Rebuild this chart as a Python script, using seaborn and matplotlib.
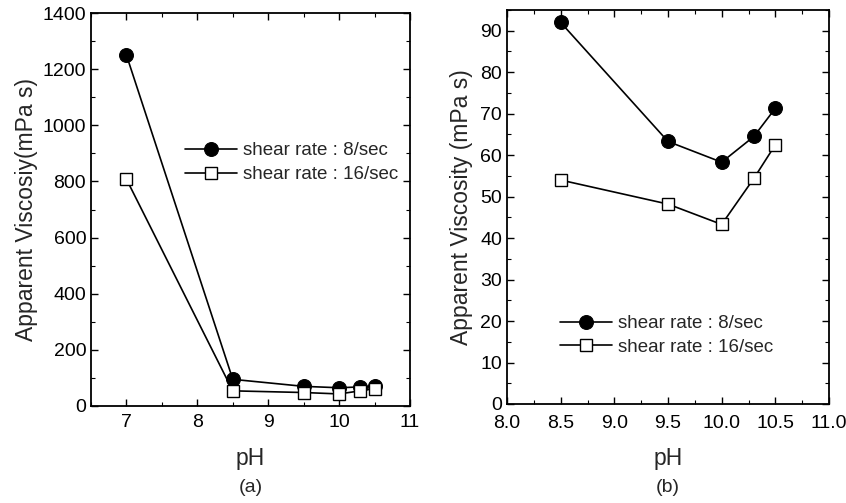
import matplotlib
matplotlib.use("Agg")
import matplotlib.pyplot as plt
import seaborn as sns
import pandas as pd
from matplotlib.ticker import MultipleLocator, FixedLocator, FixedFormatter

sns.set_style("ticks")
plt.rcParams['font.family'] = ['Liberation Sans', 'DejaVu Sans']

# Data
ph_a = [7.0, 8.5, 9.5, 10.0, 10.3, 10.5]
visc_8_a = [1250, 95, 70, 65, 68, 71]
visc_16_a = [808, 54, 48, 43, 54, 62]

ph_b = [8.5, 9.5, 10.0, 10.3, 10.5]
visc_8_b = [92, 63.3, 58.3, 64.5, 71.3]
visc_16_b = [54, 48.2, 43.3, 54.4, 62.5]

label_8 = "shear rate : 8/sec"
label_16 = "shear rate : 16/sec"
xticks_b = [8.0, 8.5, 9.0, 9.5, 10.0, 10.5, 11.0]
xticklabels_b = ["8.0", "8.5", "9.0", "9.5", "10.0", "10.5", "11.0"]

fig = plt.figure(figsize=(8.46, 5.03), dpi=100)
W, H = 846, 503
axa = fig.add_axes([91 / W, (H - 406) / H, 319 / W, 393 / H])
axb = fig.add_axes([507 / W, (H - 404) / H, 322 / W, 394 / H])

def draw(ax, x, y8, y16):
    df8 = pd.DataFrame({"pH": x, "v": y8})
    df16 = pd.DataFrame({"pH": x, "v": y16})
    sns.lineplot(data=df8, x="pH", y="v", ax=ax, color="black", marker="o",
                 markersize=10, markerfacecolor="black", markeredgecolor="black",
                 linewidth=1.2, label=label_8, sort=False)
    sns.lineplot(data=df16, x="pH", y="v", ax=ax, color="black", marker="s",
                 markersize=8.5, markerfacecolor="white", markeredgecolor="black",
                 markeredgewidth=1.0, linewidth=1.2, label=label_16, sort=False)

draw(axa, ph_a, visc_8_a, visc_16_a)
draw(axb, ph_b, visc_8_b, visc_16_b)

for ax in (axa, axb):
    for s in ax.spines.values():
        s.set_linewidth(1.3)
        s.set_color("black")
    ax.tick_params(which="both", direction="in", top=True, right=True,
                   labelsize=14, colors="black")
    ax.tick_params(which="major", length=5, width=1.0)
    ax.tick_params(which="minor", length=3, width=0.8)
    ax.tick_params(axis="x", which="major", pad=6)
    ax.set_xlabel("pH", fontsize=16.5, labelpad=11)

axa.set_xlim(6.5, 11)
axa.set_ylim(0, 1400)
axa.xaxis.set_major_locator(MultipleLocator(1))
axa.xaxis.set_minor_locator(MultipleLocator(0.5))
axa.yaxis.set_major_locator(MultipleLocator(200))
axa.yaxis.set_minor_locator(MultipleLocator(100))
axa.set_ylabel("Apparent Viscosiy(mPa s)", fontsize=16.5, labelpad=3)

axb.set_xlim(8.0, 11.0)
axb.set_ylim(0, 95)
axb.xaxis.set_major_locator(FixedLocator(xticks_b))
axb.xaxis.set_major_formatter(FixedFormatter(xticklabels_b))
axb.xaxis.set_minor_locator(MultipleLocator(0.25))
axb.yaxis.set_major_locator(MultipleLocator(10))
axb.yaxis.set_minor_locator(MultipleLocator(5))
axb.tick_params(axis="x", which="major", pad=8)
axb.set_ylabel("Apparent Viscosity (mPa s)", fontsize=16.5, labelpad=5)

leg_kw = dict(frameon=False, fontsize=13.5, handlelength=2.8, handletextpad=0.3,
              labelspacing=0.35, borderaxespad=0)
axa.legend(loc="upper left", bbox_to_anchor=(0.27, 0.69), **leg_kw)
axb.legend(loc="upper left", bbox_to_anchor=(0.14, 0.245), **leg_kw)

fig.text((91 + 319 / 2) / W, 1 - 488 / H, "(a)", ha="center", va="center", fontsize=14)
fig.text((507 + 322 / 2) / W, 1 - 488 / H, "(b)", ha="center", va="center", fontsize=14)

fig.savefig("out.png", dpi=100)
